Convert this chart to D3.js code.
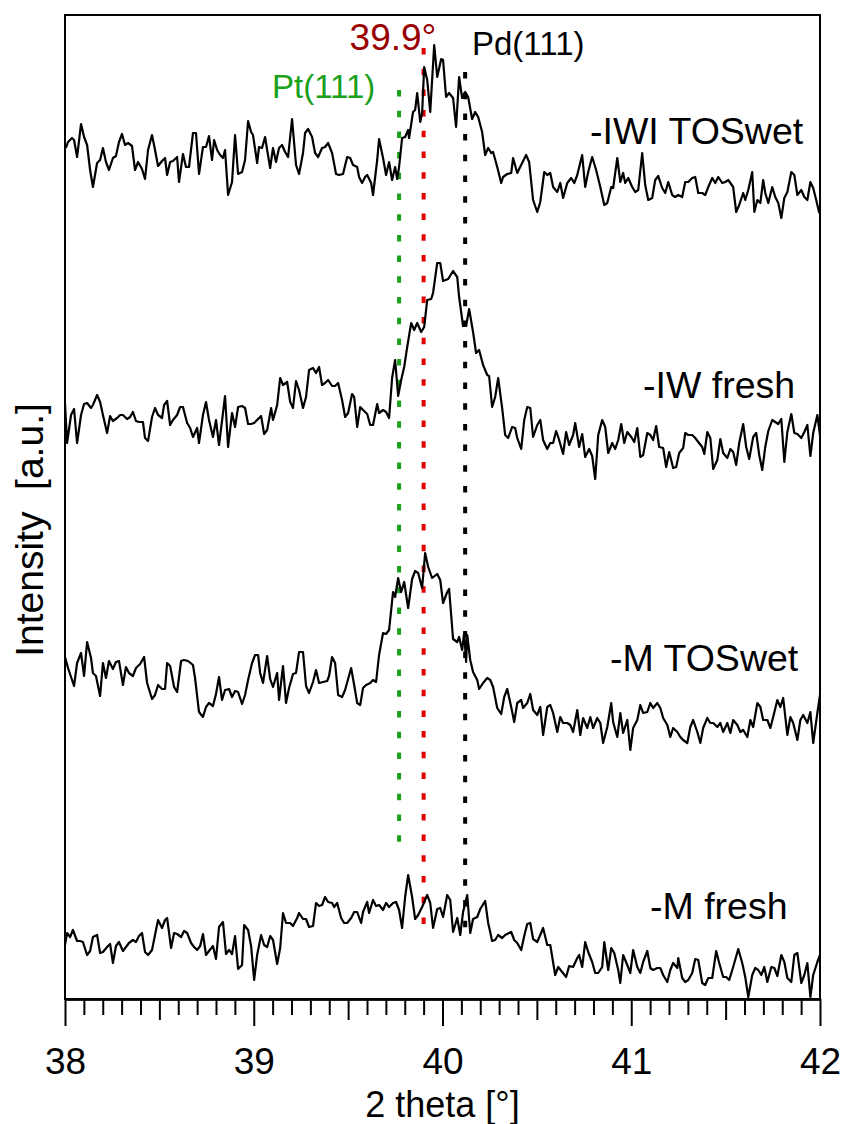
<!DOCTYPE html>
<html>
<head>
<meta charset="utf-8">
<script src="https://cdn.jsdelivr.net/npm/d3@7"></script>
<style>
  body { margin: 0; background: #fff; }
  svg { display: block; }
  text { font-family: "Liberation Sans", Arial, Helvetica, sans-serif; }
</style>
</head>
<body>
<svg id="chart" width="843" height="1124"></svg>
<script>
// XRD scans, 2θ [°] vs. stacked intensity [a.u.]
const iwiToswet = [
[38.005,852],[38.016,858],[38.037,862],[38.048,860],[38.064,843],[38.085,876],[38.101,863],[38.117,855],[38.133,830],[38.148,813],
[38.170,837],[38.186,840],[38.201,852],[38.217,838],[38.233,830],[38.254,842],[38.270,844],[38.286,858],[38.302,866],[38.318,855],
[38.334,857],[38.355,854],[38.371,830],[38.387,838],[38.408,831],[38.424,821],[38.440,850],[38.461,865],[38.477,850],[38.493,834],
[38.514,839],[38.530,842],[38.541,825],[38.557,838],[38.572,839],[38.594,843],[38.604,818],[38.625,846],[38.641,833],[38.657,833],
[38.678,867],[38.694,867],[38.710,826],[38.731,853],[38.747,853],[38.763,864],[38.779,840],[38.790,860],[38.806,850],[38.822,845],
[38.837,842],[38.848,850],[38.864,805],[38.885,818],[38.901,865],[38.917,826],[38.938,828],[38.954,840],[38.970,879],[38.986,868],
[38.996,865],[39.018,837],[39.028,853],[39.044,852],[39.060,863],[39.071,850],[39.087,832],[39.102,852],[39.118,838],[39.134,852],
[39.150,855],[39.166,848],[39.182,843],[39.203,881],[39.224,835],[39.240,826],[39.261,847],[39.272,867],[39.288,871],[39.309,863],
[39.325,847],[39.341,843],[39.362,852],[39.378,853],[39.394,857],[39.415,847],[39.436,826],[39.452,825],[39.473,826],[39.495,843],
[39.511,842],[39.526,835],[39.548,833],[39.558,823],[39.574,817],[39.590,823],[39.601,825],[39.622,817],[39.632,805],[39.654,840],
[39.664,861],[39.685,842],[39.701,825],[39.717,838],[39.733,820],[39.749,833],[39.760,821],[39.770,833],[39.786,862],[39.802,863],
[39.818,870],[39.823,862],[39.844,888],[39.855,890],[39.866,907],[39.882,878],[39.892,887],[39.903,933],[39.919,920],[39.935,888],
[39.956,955],[39.972,923],[39.993,941],[40.003,940],[40.019,903],[40.035,907],[40.056,902],[40.072,873],[40.088,923],[40.104,902],
[40.120,908],[40.136,903],[40.157,881],[40.173,888],[40.189,883],[40.210,868],[40.226,845],[40.242,852],[40.258,847],[40.268,848],
[40.290,833],[40.311,817],[40.321,823],[40.343,826],[40.364,827],[40.374,842],[40.396,827],[40.422,837],[40.443,845],[40.459,838],
[40.480,800],[40.502,788],[40.518,798],[40.539,828],[40.555,825],[40.571,827],[40.586,813],[40.608,808],[40.624,817],[40.639,802],
[40.661,817],[40.682,822],[40.698,817],[40.714,825],[40.740,845],[40.756,813],[40.772,828],[40.793,843],[40.814,830],[40.836,813],
[40.857,795],[40.873,797],[40.894,813],[40.904,812],[40.926,842],[40.942,818],[40.957,827],[40.968,817],[40.984,822],[41.005,813],
[41.021,808],[41.037,810],[41.058,847],[41.074,815],[41.090,800],[41.111,802],[41.127,820],[41.143,824],[41.164,812],[41.180,807],
[41.196,818],[41.217,805],[41.233,803],[41.249,805],[41.270,803],[41.286,818],[41.302,818],[41.323,822],[41.339,823],[41.355,807],
[41.376,807],[41.392,805],[41.408,813],[41.429,822],[41.445,817],[41.461,823],[41.482,817],[41.498,818],[41.514,820],[41.540,813],
[41.556,788],[41.572,795],[41.593,807],[41.604,800],[41.620,810],[41.641,828],[41.652,788],[41.668,800],[41.684,797],[41.699,820],
[41.710,807],[41.726,797],[41.747,813],[41.763,803],[41.779,797],[41.795,782],[41.811,802],[41.827,808],[41.848,828],[41.864,825],
[41.880,805],[41.901,810],[41.917,803],[41.933,800],[41.949,818],[41.964,812],[41.980,800],[41.996,787]
];

const iwFresh = [
[38.000,597],[38.011,557],[38.032,585],[38.048,591],[38.064,557],[38.085,585],[38.101,596],[38.117,597],[38.138,592],[38.148,595],
[38.170,605],[38.186,598],[38.201,585],[38.223,567],[38.239,584],[38.254,579],[38.276,582],[38.292,585],[38.307,585],[38.329,581],
[38.345,583],[38.360,588],[38.376,579],[38.392,578],[38.413,578],[38.424,562],[38.440,559],[38.461,583],[38.477,592],[38.493,585],
[38.514,582],[38.525,595],[38.541,599],[38.557,575],[38.572,580],[38.594,585],[38.610,593],[38.625,593],[38.647,577],[38.663,572],
[38.678,563],[38.700,572],[38.710,557],[38.731,585],[38.747,598],[38.763,580],[38.784,563],[38.800,580],[38.816,555],[38.837,587],
[38.848,604],[38.864,553],[38.885,587],[38.901,573],[38.917,593],[38.938,594],[38.954,592],[38.970,576],[38.986,576],[39.002,577],
[39.023,581],[39.039,584],[39.055,566],[39.071,570],[39.092,592],[39.102,580],[39.124,595],[39.140,622],[39.155,615],[39.177,618],
[39.193,598],[39.208,592],[39.224,619],[39.240,610],[39.261,592],[39.277,603],[39.293,630],[39.314,632],[39.330,627],[39.346,633],
[39.362,615],[39.378,617],[39.394,620],[39.415,614],[39.431,614],[39.447,617],[39.468,600],[39.484,583],[39.500,587],[39.521,606],
[39.532,603],[39.548,573],[39.564,593],[39.579,590],[39.601,586],[39.617,575],[39.632,575],[39.654,596],[39.664,587],[39.685,590],
[39.701,588],[39.717,582],[39.733,622],[39.749,640],[39.765,604],[39.781,620],[39.797,633],[39.813,653],[39.834,677],[39.850,670],
[39.866,677],[39.887,668],[39.903,673],[39.919,700],[39.940,701],[39.950,707],[39.972,737],[39.988,737],[40.003,719],[40.030,721],
[40.056,729],[40.078,723],[40.088,703],[40.109,674],[40.125,674],[40.141,691],[40.162,668],[40.178,647],[40.194,650],[40.215,635],
[40.237,625],[40.247,624],[40.263,593],[40.279,603],[40.295,622],[40.316,592],[40.332,565],[40.348,562],[40.369,573],[40.385,572],
[40.396,562],[40.417,551],[40.433,580],[40.449,593],[40.465,592],[40.480,563],[40.502,575],[40.518,580],[40.533,560],[40.555,551],
[40.571,557],[40.586,557],[40.602,569],[40.618,560],[40.639,546],[40.655,568],[40.671,555],[40.692,565],[40.703,577],[40.724,553],
[40.740,566],[40.756,543],[40.777,551],[40.793,544],[40.809,521],[40.825,565],[40.846,580],[40.862,573],[40.878,547],[40.899,557],
[40.915,551],[40.931,560],[40.947,576],[40.963,557],[40.979,568],[41.000,563],[41.016,558],[41.032,572],[41.048,543],[41.063,545],
[41.085,567],[41.101,565],[41.116,560],[41.132,574],[41.148,553],[41.169,552],[41.185,533],[41.201,548],[41.222,532],[41.238,533],
[41.254,547],[41.275,552],[41.286,567],[41.302,565],[41.323,565],[41.339,562],[41.355,558],[41.376,553],[41.387,546],[41.403,568],
[41.419,562],[41.434,531],[41.456,540],[41.472,561],[41.487,547],[41.509,542],[41.525,551],[41.540,548],[41.556,535],[41.572,557],
[41.593,576],[41.609,553],[41.625,541],[41.646,563],[41.662,567],[41.678,545],[41.694,530],[41.710,553],[41.726,569],[41.747,580],
[41.763,578],[41.779,576],[41.795,581],[41.811,538],[41.827,568],[41.848,586],[41.864,567],[41.880,566],[41.901,562],[41.917,568],
[41.933,575],[41.949,544],[41.964,567],[41.986,585],[42.000,565]
];

const mToswet = [
[38.000,343],[38.016,332],[38.048,314],[38.064,337],[38.085,347],[38.101,324],[38.117,358],[38.138,342],[38.148,327],[38.164,324],
[38.186,304],[38.201,337],[38.217,322],[38.233,339],[38.254,331],[38.270,338],[38.286,339],[38.307,315],[38.323,333],[38.339,327],
[38.360,324],[38.376,332],[38.398,336],[38.419,343],[38.435,317],[38.461,301],[38.477,305],[38.493,315],[38.514,311],[38.530,311],
[38.541,337],[38.557,334],[38.578,313],[38.594,308],[38.615,339],[38.631,340],[38.652,339],[38.678,335],[38.689,322],[38.710,288],
[38.731,283],[38.747,293],[38.763,297],[38.784,294],[38.800,306],[38.816,323],[38.832,300],[38.848,310],[38.869,311],[38.885,303],
[38.901,309],[38.917,308],[38.938,296],[38.954,305],[38.970,320],[38.991,337],[39.007,345],[39.023,345],[39.034,327],[39.049,317],
[39.071,344],[39.087,321],[39.102,313],[39.124,327],[39.134,300],[39.155,334],[39.171,297],[39.187,312],[39.208,326],[39.224,327],
[39.240,348],[39.261,348],[39.277,314],[39.293,307],[39.314,318],[39.330,330],[39.346,317],[39.367,318],[39.389,319],[39.399,324],
[39.415,343],[39.431,337],[39.447,305],[39.468,303],[39.484,310],[39.516,332],[39.532,315],[39.548,297],[39.564,295],[39.579,312],
[39.595,315],[39.617,317],[39.632,320],[39.648,318],[39.664,345],[39.685,367],[39.701,366],[39.717,370],[39.738,408],[39.749,403],
[39.765,422],[39.781,408],[39.797,418],[39.818,392],[39.839,421],[39.855,429],[39.871,427],[39.892,412],[39.908,447],[39.924,433],
[39.945,422],[39.972,426],[39.988,420],[40.003,397],[40.025,408],[40.035,411],[40.056,361],[40.078,358],[40.088,363],[40.104,350],
[40.115,367],[40.125,338],[40.131,365],[40.147,340],[40.162,328],[40.184,320],[40.194,311],[40.215,317],[40.237,322],[40.253,320],
[40.268,313],[40.290,292],[40.311,286],[40.327,303],[40.343,311],[40.364,293],[40.380,278],[40.396,297],[40.417,300],[40.427,292],
[40.449,297],[40.465,306],[40.480,290],[40.502,285],[40.518,293],[40.533,265],[40.555,293],[40.571,295],[40.586,287],[40.608,268],
[40.624,283],[40.639,277],[40.661,277],[40.677,275],[40.692,268],[40.714,290],[40.730,265],[40.745,282],[40.767,272],[40.783,283],
[40.798,272],[40.820,282],[40.836,277],[40.851,257],[40.873,273],[40.894,297],[40.904,278],[40.926,263],[40.942,287],[40.957,267],
[40.979,280],[40.995,250],[41.010,272],[41.032,280],[41.048,295],[41.063,287],[41.085,288],[41.101,297],[41.116,292],[41.138,297],
[41.154,292],[41.169,282],[41.191,275],[41.207,263],[41.222,272],[41.244,268],[41.260,263],[41.275,260],[41.297,257],[41.313,273],
[41.328,280],[41.350,268],[41.366,257],[41.381,272],[41.403,282],[41.419,277],[41.434,277],[41.456,273],[41.472,277],[41.487,268],
[41.509,277],[41.525,267],[41.540,280],[41.562,275],[41.578,268],[41.593,270],[41.615,263],[41.631,280],[41.646,273],[41.668,297],
[41.684,293],[41.699,280],[41.721,280],[41.737,272],[41.752,283],[41.774,300],[41.790,293],[41.805,302],[41.827,265],[41.843,283],
[41.858,277],[41.880,260],[41.896,280],[41.911,285],[41.933,277],[41.949,288],[41.964,257],[41.986,287],[42.000,305]
];

const mFresh = [
[38.000,55],[38.011,67],[38.027,63],[38.042,70],[38.064,59],[38.080,59],[38.095,58],[38.117,45],[38.133,49],[38.148,63],
[38.170,65],[38.186,47],[38.201,48],[38.223,53],[38.239,56],[38.254,37],[38.270,54],[38.286,58],[38.307,49],[38.323,53],
[38.339,57],[38.360,60],[38.376,58],[38.392,64],[38.408,67],[38.424,48],[38.440,45],[38.461,50],[38.477,65],[38.493,80],
[38.514,72],[38.530,80],[38.541,82],[38.562,52],[38.578,67],[38.594,66],[38.615,63],[38.631,69],[38.647,67],[38.668,57],
[38.684,53],[38.700,50],[38.716,54],[38.731,66],[38.747,45],[38.763,49],[38.784,54],[38.800,41],[38.816,73],[38.837,78],
[38.853,46],[38.869,50],[38.885,46],[38.901,64],[38.917,31],[38.938,35],[38.949,75],[38.970,70],[38.986,54],[39.002,20],
[39.018,45],[39.039,65],[39.055,55],[39.071,53],[39.087,64],[39.102,60],[39.124,36],[39.140,52],[39.155,87],[39.171,77],
[39.193,77],[39.208,74],[39.230,82],[39.240,87],[39.261,81],[39.277,81],[39.293,73],[39.314,74],[39.330,97],[39.346,94],
[39.362,95],[39.378,103],[39.394,98],[39.415,97],[39.426,93],[39.442,97],[39.463,82],[39.479,77],[39.495,77],[39.516,82],
[39.532,88],[39.548,88],[39.569,77],[39.579,88],[39.601,98],[39.611,87],[39.632,100],[39.648,94],[39.664,95],[39.685,90],
[39.701,97],[39.717,93],[39.738,97],[39.754,98],[39.770,90],[39.786,72],[39.802,103],[39.818,125],[39.839,103],[39.855,81],
[39.871,85],[39.892,93],[39.919,105],[39.935,97],[39.950,72],[39.972,91],[39.988,92],[40.003,83],[40.025,105],[40.041,100],
[40.056,68],[40.078,82],[40.094,65],[40.109,88],[40.131,105],[40.147,67],[40.162,81],[40.184,83],[40.200,91],[40.226,99],
[40.242,77],[40.263,59],[40.279,60],[40.295,65],[40.316,62],[40.332,65],[40.364,68],[40.380,60],[40.396,57],[40.417,50],
[40.433,64],[40.449,76],[40.465,77],[40.480,61],[40.502,58],[40.518,65],[40.533,72],[40.555,55],[40.571,55],[40.597,25],
[40.613,33],[40.634,28],[40.655,23],[40.671,34],[40.692,33],[40.714,42],[40.724,45],[40.740,33],[40.756,58],[40.772,48],
[40.793,38],[40.809,27],[40.825,27],[40.846,33],[40.857,58],[40.878,30],[40.894,52],[40.910,47],[40.931,30],[40.942,17],
[40.957,45],[40.979,35],[40.995,27],[41.010,50],[41.032,33],[41.048,27],[41.063,38],[41.085,49],[41.101,32],[41.116,30],
[41.138,32],[41.154,32],[41.169,25],[41.191,18],[41.207,30],[41.222,37],[41.244,32],[41.249,42],[41.270,22],[41.286,18],
[41.302,20],[41.323,27],[41.339,41],[41.355,40],[41.376,17],[41.392,15],[41.408,22],[41.429,22],[41.450,49],[41.466,37],
[41.487,23],[41.503,23],[41.519,20],[41.540,33],[41.567,51],[41.588,37],[41.604,23],[41.620,3],[41.641,25],[41.657,32],
[41.673,30],[41.689,25],[41.705,33],[41.721,18],[41.742,33],[41.758,32],[41.774,24],[41.795,45],[41.811,38],[41.827,22],
[41.848,18],[41.864,45],[41.880,47],[41.901,17],[41.917,25],[41.933,37],[41.949,3],[41.964,25],[41.986,38],[42.000,45]
];

const seriesLabels = ["-IWI TOSwet", "-IW fresh", "-M TOSwet", "-M fresh"];
const seriesData = [iwiToswet, iwFresh, mToswet, mFresh];

// reflection markers: 2θ position and the intensity span they cover
const refThetas = [39.77, 39.9, 40.12];
const refTops = [910, 952, 928];
const refBottoms = [155, 63, 70];
const refColors = ["#1aa01a", "#e00000", "#000000"];

const xTickValues = [38, 39, 40, 41, 42];
const xDomain = [38, 42];
const yDomain = [1, 985];

// ---- layout ----
const plot = { left: 65, right: 820, top: 15, bottom: 999 };
const svg = d3.select("#chart");

const x = d3.scaleLinear().domain(xDomain).range([plot.left, plot.right]);
const y = d3.scaleLinear().domain(yDomain).range([plot.bottom, plot.top]);

// frame
svg.append("rect")
  .attr("x", plot.left).attr("y", plot.top)
  .attr("width", plot.right - plot.left).attr("height", plot.bottom - plot.top)
  .attr("fill", "none").attr("stroke", "#000").attr("stroke-width", 2);

// dotted reflection markers
refThetas.forEach((t, i) => {
  svg.append("line")
    .attr("x1", x(t)).attr("x2", x(t))
    .attr("y1", y(refTops[i])).attr("y2", y(refBottoms[i]))
    .attr("stroke", refColors[i]).attr("stroke-width", 4)
    .attr("stroke-dasharray", "6.5,14.2");
});

// traces
const line = d3.line().x(d => x(d[0])).y(d => y(d[1]));
seriesData.forEach(s => {
  svg.append("path").datum(s)
    .attr("d", line)
    .attr("fill", "none").attr("stroke", "#000")
    .attr("stroke-width", 2.2).attr("stroke-linejoin", "round");
});

// x axis: major, half and tenth ticks
const axisG = svg.append("g").attr("transform", `translate(0,${plot.bottom})`);
const minorVals = d3.range(1, 40).map(i => 38 + i / 10).filter(v => Math.abs(v - Math.round(v)) > 1e-6);
const halfVals = minorVals.filter(v => Math.abs(v * 2 - Math.round(v * 2)) < 1e-6);
const tenthVals = minorVals.filter(v => !halfVals.includes(v));

axisG.append("g").call(d3.axisBottom(x).tickValues(tenthVals).tickSize(16).tickSizeOuter(0).tickFormat(""));
axisG.append("g").call(d3.axisBottom(x).tickValues(halfVals).tickSize(21).tickSizeOuter(0).tickFormat(""));
axisG.append("g").call(d3.axisBottom(x).tickValues(xTickValues).tickSize(27).tickSizeOuter(0).tickPadding(22).tickFormat(d3.format("d")));
axisG.selectAll("path.domain").attr("stroke-width", 2);
axisG.selectAll(".tick line").attr("stroke-width", 2);
axisG.selectAll(".tick text")
  .attr("font-size", 37).attr("fill", "#000")
  .style("font-family", '"Liberation Sans", Arial, sans-serif');

// axis titles
svg.append("text")
  .attr("x", (plot.left + plot.right) / 2).attr("y", 1117)
  .attr("text-anchor", "middle").attr("font-size", 36)
  .text("2 theta [°]");

svg.append("text")
  .attr("transform", "translate(43,530) rotate(-90)")
  .attr("text-anchor", "middle").attr("font-size", 39)
  .attr("xml:space", "preserve")
  .text("Intensity  [a.u.]");

// series labels
const labelPos = [[590, 144], [643, 398], [610, 671], [650, 919]];
seriesLabels.forEach((s, i) => {
  svg.append("text")
    .attr("x", labelPos[i][0]).attr("y", labelPos[i][1])
    .attr("font-size", 37.5).attr("fill", "#000")
    .text(s);
});

// reflection annotations
svg.append("text").attr("x", 393).attr("y", 50)
  .attr("text-anchor", "middle").attr("font-size", 37).attr("fill", "#990000")
  .text("39.9°");
svg.append("text").attr("x", 272).attr("y", 98)
  .attr("font-size", 33).attr("fill", "#1aa01a")
  .text("Pt(111)");
svg.append("text").attr("x", 472).attr("y", 55)
  .attr("font-size", 33).attr("fill", "#000")
  .text("Pd(111)");
</script>
</body>
</html>
